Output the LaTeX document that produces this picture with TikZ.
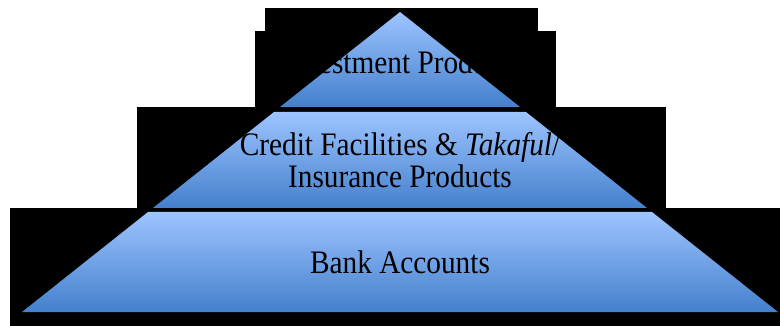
\documentclass[tikz,border=0pt]{standalone}
\usepackage{fontspec}
\setmainfont{Liberation Serif}
\definecolor{layertop}{RGB}{157,196,255}
\definecolor{layerbot}{RGB}{68,128,204}
\begin{document}
\begin{tikzpicture}[x=1pt,y=-1pt,
  backbox/.style={fill=black},
  layer/.style={top color=layertop,bottom color=layerbot,draw=none},
  lbl/.style={text=black,align=center,font=\fontsize{29.3}{28}\selectfont,inner sep=0pt}]
\useasboundingbox (0,0) rectangle (780,326);
% black backgrounds
\fill[backbox] (265,8) rectangle (538,31);
\fill[backbox] (255,31) rectangle (556,107);
\fill[backbox] (137,107) rectangle (666,208);
\fill[backbox] (10,208) rectangle (780,326);
% layers
\path[layer] (400,12) -- (520,107) -- (280,107) -- cycle;
\path[layer] (274,112) -- (526,112) -- (647,208) -- (153,208) -- cycle;
\path[layer] (148,212) -- (652,212) -- (778,312) -- (22,312) -- cycle;
% labels
\node[lbl] (top) at (400,62) {\scalebox{1}[1.12]{Investment Products}};
\node[lbl] (mid) at (400,165) {\scalebox{1}[1.12]{\begin{tabular}{@{}c@{}}Credit Facilities \& \textit{Takaful}/\\Insurance Products\end{tabular}}};
\node[lbl] (bot) at (400,262) {\scalebox{1}[1.12]{Bank Accounts}};
\end{tikzpicture}
\end{document}
